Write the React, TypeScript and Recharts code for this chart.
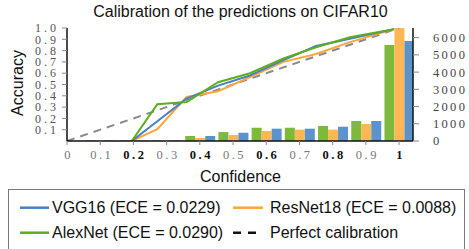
import React from 'react';
import { ComposedChart, Bar, Line, XAxis, YAxis } from 'recharts';

// Histogram (sample counts per confidence bin), bars centred on the x ticks
const binCenters = [0.1, 0.2, 0.3, 0.4, 0.5, 0.6, 0.7, 0.8, 0.9, 1.0];
const alexCounts = [25, 30, 30, 290, 520, 770, 770, 870, 1160, 5575];
const resCounts = [20, 25, 25, 174, 350, 580, 660, 660, 990, 6560];
const vggCounts = [20, 30, 30, 290, 480, 715, 715, 830, 1160, 5800];

// Reliability curves: mean confidence of each bin vs accuracy
const binConf = [0.195, 0.272, 0.36, 0.455, 0.551, 0.652, 0.75, 0.852, 0.985];
const vggAcc = [0, 0.175, 0.375, 0.49, 0.58, 0.715, 0.84, 0.905, 0.99];
const resAcc = [0, 0.105, 0.39, 0.44, 0.565, 0.7, 0.77, 0.875, 0.99];
const alexAcc = [0, 0.325, 0.345, 0.52, 0.6, 0.73, 0.83, 0.918, 0.99];

const perfectX = [0, 1];

const xTicks = [0, 0.1, 0.2, 0.3, 0.4, 0.5, 0.6, 0.7, 0.8, 0.9, 1];
const boldXTicks = [0.2, 0.4, 0.6, 0.8, 1];
const accTicks = [0.1, 0.2, 0.3, 0.4, 0.5, 0.6, 0.7, 0.8, 0.9, 1.0];
const countTicks = [0, 1000, 2000, 3000, 4000, 5000, 6000];

const legendLabels = {
  vgg: 'VGG16 (ECE = 0.0229)',
  res: 'ResNet18 (ECE = 0.0088)',
  alex: 'AlexNet (ECE = 0.0290)',
  perfect: 'Perfect calibration',
};

const C = {
  vggLine: '#4680c6',
  resLine: '#ffa53a',
  alexLine: '#5ead1c',
  vggBar: '#5d93cd',
  resBar: '#ffb755',
  alexBar: '#7dba3b',
};

const X_DOMAIN: [number, number] = [0, 1.042];

const barData = binCenters.map((x, i) => ({
  x,
  alex: alexCounts[i],
  res: resCounts[i],
  vgg: vggCounts[i],
}));
const mkLine = (acc: number[]) => binConf.map((x, i) => ({ x, y: acc[i] }));
const vggData = mkLine(vggAcc);
const resData = mkLine(resAcc);
const alexData = mkLine(alexAcc);
const perfectData = perfectX.map((x) => ({ x, y: x }));

const SERIF = '"Liberation Serif", "Times New Roman", serif';
const SANS = '"Liberation Sans", Arial, Helvetica, sans-serif';

const XTick = (props: any) => {
  const { x, y, payload } = props;
  const v = payload.value;
  const bold = boldXTicks.some((b) => Math.abs(b - v) < 1e-6);
  const label = v === 0 ? '0' : Math.abs(v - 1) < 1e-6 ? '1' : v.toFixed(1);
  return (
    <text
      x={x + 1.5}
      y={y}
      dy="0.71em"
      textAnchor="middle"
      fontFamily={SERIF}
      fontSize={12.5}
      letterSpacing={2.5}
      fontWeight={bold ? 'bold' : 'normal'}
      fill={bold ? '#111' : '#777'}
    >
      {label}
    </text>
  );
};

const LeftTick = (props: any) => {
  const { x, y, payload } = props;
  return (
    <text x={x} y={y} dy="0.355em" textAnchor="end" fontFamily={SERIF} fontSize={12} letterSpacing={3} fill="#555">
      {payload.value.toFixed(1)}
    </text>
  );
};

const RightTick = (props: any) => {
  const { x, y, payload } = props;
  return (
    <text x={x} y={y} dy="0.355em" textAnchor="start" fontFamily={SERIF} fontSize={12.5} letterSpacing={2.3} fill="#444">
      {String(payload.value)}
    </text>
  );
};

export default function App() {
  return (
    <div style={{ position: 'absolute', left: 0, top: 0, width: 469, height: 249, background: '#fff', overflow: 'hidden' }}>
      <div
        style={{
          position: 'absolute',
          left: 0,
          top: 2.5,
          width: 481,
          textAlign: 'center',
          fontFamily: SANS,
          fontSize: 16,
          color: '#111',
          whiteSpace: 'nowrap',
        }}
      >
        Calibration of the predictions on CIFAR10
      </div>
      <ComposedChart
        width={469}
        height={249}
        data={barData}
        margin={{ top: 28, right: 0, bottom: 68, left: 0 }}
        barGap={0}
        barSize={10}
      >
        <XAxis
          xAxisId="top"
          orientation="top"
          type="number"
          dataKey="x"
          domain={X_DOMAIN}
          height={0}
          tick={false}
          tickLine={false}
          axisLine={{ stroke: '#111', strokeWidth: 1.5 }}
          allowDataOverflow
        />
        <XAxis
          xAxisId="main"
          type="number"
          dataKey="x"
          domain={X_DOMAIN}
          ticks={xTicks}
          height={40}
          tickSize={4}
          tickMargin={5}
          tick={<XTick />}
          tickLine={{ stroke: '#888' }}
          axisLine={{ stroke: '#111', strokeWidth: 1.5 }}
          allowDataOverflow
          interval={0}
        />
        <XAxis
          xAxisId="lines"
          type="number"
          dataKey="x"
          domain={X_DOMAIN}
          height={0}
          hide
          allowDataOverflow
        />
        <YAxis
          yAxisId="left"
          orientation="left"
          type="number"
          domain={[0, 1]}
          ticks={accTicks}
          width={67}
          tickSize={5}
          tickMargin={3}
          tick={<LeftTick />}
          tickLine={{ stroke: '#888' }}
          axisLine={{ stroke: '#111', strokeWidth: 1.5 }}
          allowDataOverflow
          interval={0}
        />
        <YAxis
          yAxisId="right"
          orientation="right"
          type="number"
          domain={[0, 6560]}
          ticks={countTicks}
          width={56}
          tickSize={6}
          tickMargin={14}
          tick={<RightTick />}
          tickLine={{ stroke: '#888' }}
          axisLine={{ stroke: '#111', strokeWidth: 1.5 }}
          allowDataOverflow
          interval={0}
        />
        <Bar xAxisId="main" yAxisId="right" dataKey="alex" fill={C.alexBar} isAnimationActive={false} />
        <Bar xAxisId="main" yAxisId="right" dataKey="res" fill={C.resBar} isAnimationActive={false} />
        <Bar xAxisId="main" yAxisId="right" dataKey="vgg" fill={C.vggBar} isAnimationActive={false} />
        <Line
          xAxisId="lines"
          yAxisId="left"
          data={perfectData}
          dataKey="y"
          type="linear"
          stroke="#8a8a8a"
          strokeWidth={2}
          strokeDasharray="8 6"
          dot={false}
          isAnimationActive={false}
        />
        <Line
          xAxisId="lines"
          yAxisId="left"
          data={resData}
          dataKey="y"
          type="linear"
          stroke={C.resLine}
          strokeWidth={2}
          dot={false}
          isAnimationActive={false}
        />
        <Line
          xAxisId="lines"
          yAxisId="left"
          data={vggData}
          dataKey="y"
          type="linear"
          stroke={C.vggLine}
          strokeWidth={2}
          dot={false}
          isAnimationActive={false}
        />
        <Line
          xAxisId="lines"
          yAxisId="left"
          data={alexData}
          dataKey="y"
          type="linear"
          stroke={C.alexLine}
          strokeWidth={2}
          dot={false}
          isAnimationActive={false}
        />
      </ComposedChart>
      <div
        style={{
          position: 'absolute',
          left: 200,
          top: 167.7,
          fontFamily: SANS,
          fontSize: 16,
          color: '#111',
          whiteSpace: 'nowrap',
        }}
      >
        Confidence
      </div>
      <div
        style={{
          position: 'absolute',
          left: -32.5,
          top: 74.3,
          width: 100,
          textAlign: 'center',
          transform: 'rotate(-90deg)',
          fontFamily: SANS,
          fontSize: 16,
          color: '#111',
          whiteSpace: 'nowrap',
        }}
      >
        Accuracy
      </div>
      <div
        style={{
          position: 'absolute',
          left: 8,
          top: 189,
          width: 457,
          height: 80,
          boxSizing: 'border-box',
          border: '1px solid #7a7a7a',
          background: '#fff',
          fontFamily: SANS,
          fontSize: 16,
          color: '#111',
        }}
      >
        <svg width={455} height={60} style={{ position: 'absolute', left: 0, top: 0 }}>
          <line x1={11} x2={40} y1={17.7} y2={17.7} stroke={C.vggLine} strokeWidth={2.5} />
          <line x1={224} x2={254} y1={17.7} y2={17.7} stroke={C.resLine} strokeWidth={2.5} />
          <line x1={11} x2={40} y1={42.7} y2={42.7} stroke={C.alexLine} strokeWidth={2.5} />
          <line x1={224} x2={248} y1={42.7} y2={42.7} stroke="#111" strokeWidth={2.5} strokeDasharray="8 7" />
        </svg>
        <span style={{ position: 'absolute', left: 43, top: 8.9, whiteSpace: 'nowrap' }}>{legendLabels.vgg}</span>
        <span style={{ position: 'absolute', left: 261, top: 8.9, whiteSpace: 'nowrap' }}>{legendLabels.res}</span>
        <span style={{ position: 'absolute', left: 43, top: 33.9, whiteSpace: 'nowrap' }}>{legendLabels.alex}</span>
        <span style={{ position: 'absolute', left: 261, top: 33.9, whiteSpace: 'nowrap' }}>{legendLabels.perfect}</span>
      </div>
    </div>
  );
}
